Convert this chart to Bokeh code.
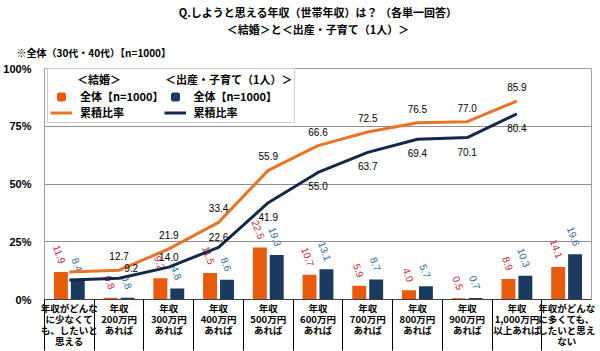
from bokeh.plotting import figure
from bokeh.models import (Range1d, FixedTicker, Legend, LegendItem, Title,
                          ColumnDataSource, NumeralTickFormatter)
from bokeh.core.properties import value
from bokeh.embed import file_html
from bokeh.resources import INLINE

categories = ["年収がどんな\nに少なくて\nも、したいと\n思える",
              "年収\n200万円\nあれば", "年収\n300万円\nあれば", "年収\n400万円\nあれば",
              "年収\n500万円\nあれば", "年収\n600万円\nあれば", "年収\n700万円\nあれば",
              "年収\n800万円\nあれば", "年収\n900万円\nあれば", "年収\n1,000万円\n以上あれば",
              "年収がどんな\nに多くても、\nしたいと思え\nない"]
marriage = [11.9, 0.8, 9.2, 11.5, 22.5, 10.7, 5.9, 4.0, 0.5, 8.9, 14.1]
child = [8.4, 0.8, 4.8, 8.6, 19.3, 13.1, 8.7, 5.7, 0.7, 10.3, 19.6]
marriage_cum = [11.9, 12.7, 21.9, 33.4, 55.9, 66.6, 72.5, 76.5, 77.0, 85.9]
child_cum = [8.4, 9.2, 14.0, 22.6, 41.9, 55.0, 63.7, 69.4, 70.1, 80.4]
y_ticks = [0, 25, 50, 75, 100]

ORANGE = "#e85a0c"
ORANGE_LINE = "#e8742a"
NAVY = "#1b3a5f"
NAVY_LINE = "#14284a"
RED_TXT = "#c8283a"
BLUE_TXT = "#2a6aa0"
JP = "Noto Sans CJK JP"
NUM = "Liberation Sans"
NAN = float("nan")

n = len(categories)
centers = [i + 0.5 for i in range(n)]

p = figure(width=600, height=351, output_backend="svg", toolbar_location=None,
           x_range=Range1d(0, n), y_range=Range1d(0, 100),
           min_border_left=38, min_border_right=9, min_border_top=68, min_border_bottom=51)
p.title = None
p.background_fill_color = "white"
p.border_fill_color = "white"
p.outline_line_color = "#a0a0a0"
p.outline_line_width = 1

# titles (added closest first)
p.add_layout(Title(text="※全体（30代・40代）【n=1000】", align="left", text_font=JP,
                   text_font_size="10px", text_font_style="bold", text_color="black",
                   offset=-28, standoff=17, text_line_height=0.45), "above")
p.add_layout(Title(text="＜結婚＞と＜出産・子育て（1人）＞", align="center", text_font=JP,
                   text_font_size="11px", text_font_style="bold", text_color="black",
                   standoff=-4, text_line_height=0.9), "above")
p.add_layout(Title(text="Q.しようと思える年収（世帯年収）は？ （各単一回答）", align="center",
                   text_font=JP, text_font_size="11px", text_font_style="bold",
                   text_color="black", standoff=2, text_line_height=0.8), "above")

# grid
p.xgrid.visible = False
p.ygrid.ticker = FixedTicker(ticks=y_ticks)
p.ygrid.grid_line_color = "#909090"
p.ygrid.grid_line_width = 1

# y axis
p.yaxis.ticker = FixedTicker(ticks=y_ticks)
p.yaxis.formatter = NumeralTickFormatter(format="0")
p.yaxis.major_label_overrides = {t: f"{t}%" for t in y_ticks}
p.yaxis.axis_line_color = None
p.yaxis.major_tick_line_color = None
p.yaxis.minor_tick_line_color = None
p.yaxis.major_label_text_font = NUM
p.yaxis.major_label_text_font_size = "11px"
p.yaxis.major_label_text_font_style = "bold"
p.yaxis.major_label_text_color = "black"
p.yaxis.major_label_standoff = 7

# x axis
p.xaxis.ticker = FixedTicker(ticks=centers, minor_ticks=list(range(n)))
p.xaxis.major_label_overrides = {c: lab for c, lab in zip(centers, categories)}
p.xaxis.axis_line_color = "#404040"
p.xaxis.major_tick_line_color = None
p.xaxis.major_tick_out = 0
p.xaxis.minor_tick_line_color = "black"
p.xaxis.minor_tick_out = 51
p.xaxis.minor_tick_in = 0
p.xaxis.major_label_text_font = JP
p.xaxis.major_label_text_font_size = "9.5px"
p.xaxis.major_label_text_font_style = "bold"
p.xaxis.major_label_text_color = "black"
p.xaxis.major_label_text_line_height = 0.8
p.xaxis.major_label_standoff = -50

# bars
bar_src = ColumnDataSource(dict(
    xo=[c - 0.17 for c in centers], xn=[c + 0.17 for c in centers],
    m=marriage, c=child,
    mt=[f"{v:.1f}" for v in marriage], ct=[f"{v:.1f}" for v in child]))
p.vbar(x="xo", top="m", width=0.28, source=bar_src, fill_color=ORANGE, line_color=None)
p.vbar(x="xn", top="c", width=0.28, source=bar_src, fill_color=NAVY, line_color=None)
p.text(x="xo", y="m", text="mt", source=bar_src, angle=-1.22, text_align="right",
       text_baseline="middle", y_offset=-9, x_offset=2, text_font=value(NUM),
       text_font_size="10px", text_color=RED_TXT)
p.text(x="xn", y="c", text="ct", source=bar_src, angle=-1.22, text_align="right",
       text_baseline="middle", y_offset=-9, x_offset=2, text_font=value(NUM),
       text_font_size="10px", text_color=BLUE_TXT)

# cumulative lines
m_line = p.line(centers[:len(marriage_cum)], marriage_cum, line_color=ORANGE_LINE, line_width=3)
c_line = p.line(centers[:len(child_cum)], child_cum, line_color=NAVY_LINE, line_width=3)

lab_x = centers[1:len(marriage_cum)]
p.text(x=lab_x, y=marriage_cum[1:], text=[f"{v:.1f}" for v in marriage_cum[1:]],
       text_align="center", text_baseline="middle", y_offset=-14,
       text_font=value(NUM), text_font_size="10px", text_color="black")
c_vals = child_cum[1:]
c_offsets = [-10 if i < 3 else 14 for i in range(len(c_vals))]
c_xoff = [12 if i == 0 else 0 for i in range(len(c_vals))]
cl_src = ColumnDataSource(dict(x=lab_x, y=c_vals, t=[f"{v:.1f}" for v in c_vals],
                               yo=c_offsets, xo=c_xoff))
p.text(x="x", y="y", text="t", source=cl_src, text_align="center", text_baseline="middle",
       y_offset="yo", x_offset="xo", text_font=value(NUM), text_font_size="10px",
       text_color="black")

# legend proxies (not drawn in the plot area)
m_sq = p.scatter(x=[NAN], y=[NAN], marker="square", fill_color=ORANGE, line_color=ORANGE,
                 line_width=3)
c_sq = p.scatter(x=[NAN], y=[NAN], marker="square", fill_color=NAVY, line_color=NAVY,
                 line_width=3)

legend = Legend(items=[LegendItem(label="全体【n=1000】", renderers=[m_sq]),
                       LegendItem(label="累積比率", renderers=[m_line]),
                       LegendItem(label="全体【n=1000】", renderers=[c_sq]),
                       LegendItem(label="累積比率", renderers=[c_line])],
                orientation="vertical", ncols=2,
                title="　　  ＜結婚＞　　　　＜出産・子育て（1人）＞",
                title_text_font=JP, title_text_font_size="11px", title_text_font_style="bold",
                title_text_color="black", title_standoff=1, title_text_line_height=0.7,
                label_text_font=JP, label_text_font_size="11px", label_text_font_style="bold",
                label_text_color="black", label_standoff=8, label_height=15,
                glyph_width=22, glyph_height=15, spacing=0,
                location=(3, 176), padding=2, margin=0, border_line_color="#a0a0a0",
                border_line_width=1, background_fill_color="white", background_fill_alpha=1)
p.add_layout(legend, "center")

open("out.html", "w").write(file_html(p, INLINE))
